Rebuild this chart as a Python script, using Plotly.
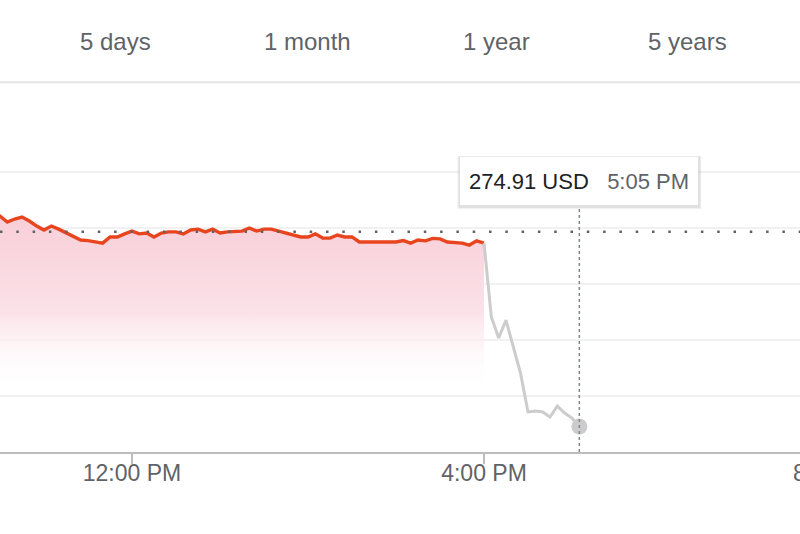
import plotly.graph_objects as go

# ---- data ----
day = "2024-01-05"
session_times = ["10:25"] + [f"{10 + (30 + 5 * k) // 60:02d}:{(30 + 5 * k) % 60:02d}" for k in range(67)]
session_prices = [
    282.64,
    282.43, 282.21, 282.32, 282.39, 282.25, 282.07, 281.93, 282.07, 281.96, 281.82,
    281.71, 281.57, 281.55, 281.50, 281.46, 281.68, 281.68, 281.79, 281.89, 281.79,
    281.82, 281.68, 281.82, 281.86, 281.86, 281.79, 281.93, 281.96, 281.86, 281.96,
    281.82, 281.86, 281.88, 281.89, 282.00, 281.89, 281.96, 281.96, 281.89, 281.82,
    281.75, 281.68, 281.68, 281.79, 281.64, 281.64, 281.75, 281.68, 281.68, 281.50,
    281.50, 281.50, 281.50, 281.50, 281.50, 281.55, 281.46, 281.57, 281.54, 281.63,
    281.61, 281.50, 281.48, 281.46, 281.39, 281.54, 281.46,
]
after_times = ["16:00", "16:05", "16:10", "16:15", "16:20", "16:25", "16:30",
               "16:35", "16:40", "16:45", "16:50", "16:55", "17:00", "17:05"]
after_prices = [281.46, 278.82, 278.07, 278.71, 277.75, 276.79, 275.43,
                275.46, 275.43, 275.25, 275.64, 275.39, 275.21, 274.91]
previous_close = 281.87
hover_time = "17:05"
hover_price_label = "274.91 USD"
hover_time_label = "5:05 PM"
tabs = ["5 days", "1 month", "1 year", "5 years"]
tab_pos = [0.145, 0.384, 0.621, 0.859]
offscreen_tick_label = "8:00 PM"

x_range = [f"{day} 10:30:00", f"{day} 19:35:27"]
y_range = [274, 285.857]

def ts(t):
    return f"{day} {t}"

RED = "#e8451f"
GRAY_TXT = "#5f6368"
FONT = "Liberation Sans, Arial, sans-serif"

fig = go.Figure()

# session area + line
fig.add_trace(go.Scatter(
    x=[ts(t) for t in session_times], y=session_prices,
    mode="lines", line=dict(color=RED, width=3.4),
    fill="tozeroy",
    fillgradient=dict(type="vertical",
                      colorscale=[[0, "rgba(255,255,255,0)"],
                                  [0.45, "rgba(251,226,232,1)"],
                                  [1, "rgba(249,207,217,1)"]],
                      start=276.2, stop=282.3),
    hoverinfo="skip", showlegend=False,
))
# after hours
fig.add_trace(go.Scatter(
    x=[ts(t) for t in after_times], y=after_prices,
    mode="lines", line=dict(color="#cccccc", width=3),
    hoverinfo="skip", showlegend=False,
))
# hovered point
fig.add_trace(go.Scatter(
    x=[ts(after_times[-1])], y=[after_prices[-1]],
    mode="markers", marker=dict(color="#cccccc", size=16),
    hoverinfo="skip", showlegend=False,
))

shapes = [
    # previous close dotted line
    dict(type="line", xref="paper", yref="y", x0=0, x1=1, y0=previous_close, y1=previous_close,
         line=dict(color="#5f6368", width=2.5, dash="2.5px,13.8px"), layer="above"),
    # crosshair
    dict(type="line", xref="x", yref="paper", x0=ts(hover_time), x1=ts(hover_time), y0=0, y1=0.741,
         line=dict(color="#80868b", width=1.5, dash="3px,3px"), layer="above"),
    # tab separator
    dict(type="line", xref="paper", yref="paper", x0=0, x1=1, y0=1.114, y1=1.114,
         line=dict(color="#e3e3e3", width=2)),
    # tooltip shadow (soft)
    dict(type="rect", xref="x", yref="paper", xsizemode="pixel", ysizemode="pixel",
         xanchor=ts(hover_time), yanchor=0.816, x0=-122, x1=122, y0=-28, y1=25,
         fillcolor="rgba(0,0,0,0.05)", line=dict(width=0), layer="above"),
    dict(type="rect", xref="x", yref="paper", xsizemode="pixel", ysizemode="pixel",
         xanchor=ts(hover_time), yanchor=0.816, x0=-121, x1=121, y0=-27, y1=24,
         fillcolor="rgba(0,0,0,0.07)", line=dict(width=0), layer="above"),
]

annotations = [
    dict(x=ts(hover_time), y=0.816, xref="x", yref="paper", xanchor="center", yanchor="middle",
         text=f"{hover_price_label}&nbsp;&nbsp;&nbsp;<span style='color:{GRAY_TXT}'>{hover_time_label}</span>",
         font=dict(family=FONT, size=22, color="#202124"),
         showarrow=False, bgcolor="white", bordercolor="rgba(0,0,0,0.06)", borderwidth=1,
         borderpad=0, width=238, height=48),
    dict(x=1.045, y=0, xref="paper", yref="paper", xanchor="center", yanchor="top", yshift=-6,
         text=offscreen_tick_label, showarrow=False,
         font=dict(family=FONT, size=23, color=GRAY_TXT)),
]
for label, xp in zip(tabs, tab_pos):
    annotations.append(dict(x=xp, y=1.236, xref="paper", yref="paper", xanchor="center", yanchor="middle",
                            text=label, showarrow=False,
                            font=dict(family=FONT, size=24, color=GRAY_TXT)))

fig.update_layout(
    width=800, height=534,
    margin=dict(l=0, r=0, t=120, b=82),
    paper_bgcolor="white", plot_bgcolor="white",
    hovermode=False,
    shapes=shapes, annotations=annotations,
    xaxis=dict(type="date", range=x_range, dtick=4 * 3600 * 1000, tick0=f"{day} 12:00",
               tickformat="%-I:%M %p", showgrid=False, zeroline=False,
               showline=True, linecolor="#bdbdbd", linewidth=2,
               ticks="outside", ticklen=10, tickcolor="#bdbdbd", tickwidth=1.5,
               ticklabelstandoff=-11,
               tickfont=dict(family=FONT, size=23, color=GRAY_TXT)),
    yaxis=dict(range=y_range, dtick=2, tick0=274, showticklabels=False,
               showgrid=True, gridcolor="#f1f1f1", gridwidth=1.5, zeroline=False),
)

fig.write_html("out.html", config={"displayModeBar": False},
               post_script="document.body.style.margin='0';document.body.style.overflow='hidden';")
